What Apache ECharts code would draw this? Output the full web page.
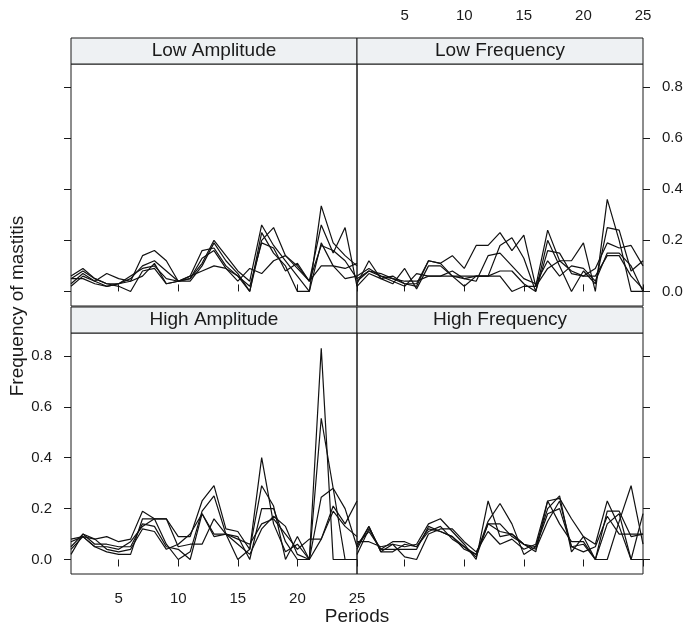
<!DOCTYPE html>
<html>
<head>
<meta charset="utf-8">
<script src="https://cdn.jsdelivr.net/npm/echarts@6/dist/echarts.min.js"></script>
<style>
html,body{margin:0;padding:0;background:#fff;}
#chart{width:688px;height:633px;}
</style>
</head>
<body>
<div id="chart"></div>
<script>
// ---- data ----
const periods = [1,2,3,4,5,6,7,8,9,10,11,12,13,14,15,16,17,18,19,20,21,22,23,24,25];
const xTicks = [5,10,15,20,25];
const yTicks = [0,0.2,0.4,0.6,0.8];
const panelNames = ['Low Amplitude','Low Frequency','High Amplitude','High Frequency'];

const lowAmplitude = [
  [0.05,0.08,0.05,0.03,0.03,0.05,0.10,0.12,0.08,0.04,0.05,0.11,0.20,0.14,0.08,0.04,0.26,0.18,0.12,0.06,0.00,0.335,0.19,0.14,0.10],
  [0.03,0.07,0.04,0.02,0.03,0.04,0.14,0.16,0.12,0.04,0.06,0.16,0.17,0.10,0.06,0.00,0.20,0.25,0.14,0.10,0.04,0.26,0.15,0.25,0.02],
  [0.06,0.09,0.05,0.03,0.02,0.00,0.08,0.09,0.03,0.04,0.04,0.10,0.19,0.12,0.07,0.00,0.23,0.15,0.10,0.00,0.00,0.19,0.10,0.09,0.11],
  [0.02,0.06,0.04,0.07,0.05,0.04,0.06,0.11,0.03,0.04,0.06,0.08,0.10,0.09,0.06,0.02,0.19,0.17,0.08,0.11,0.04,0.18,0.16,0.12,0.05],
  [0.05,0.05,0.03,0.02,0.03,0.06,0.09,0.10,0.05,0.04,0.05,0.13,0.16,0.09,0.04,0.09,0.07,0.12,0.14,0.09,0.04,0.10,0.10,0.05,0.06]
];
const lowFrequency = [
  [0.05,0.08,0.06,0.05,0.03,0.02,0.12,0.11,0.14,0.09,0.18,0.18,0.23,0.16,0.22,0.02,0.24,0.12,0.12,0.19,0.00,0.36,0.20,0.00,0.00],
  [0.03,0.12,0.05,0.03,0.09,0.01,0.10,0.10,0.06,0.02,0.06,0.06,0.18,0.21,0.13,0.00,0.20,0.10,0.00,0.08,0.03,0.25,0.24,0.08,0.12],
  [0.06,0.09,0.06,0.04,0.02,0.07,0.06,0.06,0.08,0.05,0.06,0.06,0.08,0.08,0.03,0.00,0.16,0.15,0.07,0.06,0.09,0.19,0.17,0.18,0.10],
  [0.02,0.07,0.05,0.06,0.03,0.03,0.12,0.11,0.06,0.05,0.04,0.14,0.15,0.10,0.05,0.03,0.12,0.06,0.10,0.09,0.04,0.15,0.15,0.10,0.00],
  [0.04,0.08,0.07,0.05,0.04,0.04,0.06,0.06,0.06,0.06,0.06,0.06,0.06,0.00,0.02,0.02,0.09,0.12,0.08,0.06,0.06,0.14,0.14,0.06,0.01]
];
const highAmplitude = [
  [0.05,0.10,0.08,0.09,0.07,0.08,0.19,0.16,0.16,0.09,0.09,0.23,0.29,0.12,0.11,0.04,0.40,0.14,0.03,0.06,0.00,0.83,0.00,0.00,0.00],
  [0.07,0.09,0.05,0.03,0.02,0.02,0.16,0.16,0.06,0.00,0.03,0.19,0.25,0.10,0.00,0.04,0.29,0.21,0.00,0.09,0.00,0.555,0.28,0.00,0.00],
  [0.02,0.10,0.06,0.06,0.05,0.05,0.14,0.13,0.05,0.04,0.00,0.18,0.10,0.10,0.09,0.00,0.20,0.20,0.07,0.00,0.00,0.245,0.28,0.20,0.05],
  [0.08,0.09,0.08,0.04,0.03,0.04,0.12,0.11,0.04,0.06,0.10,0.18,0.09,0.10,0.08,0.06,0.14,0.16,0.10,0.04,0.08,0.08,0.21,0.14,0.23],
  [0.04,0.09,0.05,0.05,0.04,0.07,0.13,0.16,0.16,0.05,0.06,0.06,0.16,0.10,0.06,0.02,0.12,0.17,0.13,0.02,0.00,0.08,0.19,0.13,0.09]
];
const highFrequency = [
  [0.04,0.13,0.03,0.06,0.05,0.06,0.14,0.16,0.11,0.06,0.00,0.23,0.09,0.10,0.06,0.03,0.23,0.24,0.16,0.09,0.06,0.23,0.13,0.00,0.18],
  [0.02,0.12,0.04,0.07,0.07,0.05,0.12,0.11,0.09,0.05,0.02,0.15,0.22,0.14,0.02,0.05,0.20,0.25,0.03,0.09,0.00,0.19,0.19,0.09,0.10],
  [0.07,0.07,0.05,0.06,0.01,0.00,0.10,0.12,0.12,0.07,0.03,0.11,0.06,0.08,0.04,0.06,0.23,0.14,0.07,0.07,0.00,0.00,0.15,0.29,0.06],
  [0.05,0.13,0.03,0.03,0.06,0.05,0.11,0.13,0.08,0.05,0.01,0.14,0.14,0.09,0.06,0.05,0.18,0.20,0.05,0.03,0.05,0.17,0.10,0.10,0.10],
  [0.06,0.11,0.04,0.04,0.04,0.04,0.13,0.11,0.09,0.04,0.02,0.14,0.11,0.10,0.06,0.04,0.15,0.23,0.05,0.06,0.00,0.14,0.18,0.00,0.00]
];
const panelData = [lowAmplitude, lowFrequency, highAmplitude, highFrequency];

// ---- layout / style ----
const FONT = '"Liberation Sans", Arial, Helvetica, sans-serif';
const INK = '#1a1a1a';
const lefts = [71, 357, 71, 357];
const tops = [64, 64, 333, 333];
const W = 286;
const heights = [242, 242, 241, 241];
const STRIP_H = 26;
const yMin = -0.057, yMax = 0.89;

const grids = [], xAxes = [], yAxes = [], series = [], graphics = [];
for (let p = 0; p < 4; p++) {
  grids.push({left: lefts[p], top: tops[p], width: W, height: heights[p],
    show: true, borderColor: INK, borderWidth: 1, backgroundColor: 'transparent'});
  const isTop = p < 2, isLeft = p % 2 === 0;
  // bottom x axis
  xAxes.push({gridIndex: p, type: 'value', min: 1, max: 25, position: 'bottom',
    axisLine: {show: false}, splitLine: {show: false},
    axisTick: {show: !isTop, customValues: xTicks, length: 7, lineStyle: {color: INK}},
    axisLabel: {show: p === 2, customValues: xTicks, margin: 17, fontSize: 15, color: INK, fontFamily: FONT}});
  // top x axis (above the strip)
  xAxes.push({gridIndex: p, type: 'value', min: 1, max: 25, position: 'top', offset: STRIP_H,
    show: isTop,
    axisLine: {show: false}, splitLine: {show: false},
    axisTick: {show: isTop, customValues: xTicks, length: 7, lineStyle: {color: INK}},
    axisLabel: {show: p === 1, customValues: xTicks, margin: 15, fontSize: 15, color: INK, fontFamily: FONT}});
  // left y axis
  yAxes.push({gridIndex: p, type: 'value', min: yMin, max: yMax, position: 'left',
    axisLine: {show: false}, splitLine: {show: false},
    axisTick: {show: isLeft, customValues: yTicks, length: 7, lineStyle: {color: INK}},
    axisLabel: {show: p === 2, customValues: yTicks, margin: 19, fontSize: 15, color: INK, fontFamily: FONT,
      formatter: v => Number(v).toFixed(1)}});
  // right y axis
  yAxes.push({gridIndex: p, type: 'value', min: yMin, max: yMax, position: 'right',
    axisLine: {show: false}, splitLine: {show: false},
    axisTick: {show: !isLeft, customValues: yTicks, length: 7, lineStyle: {color: INK}},
    axisLabel: {show: p === 1, customValues: yTicks, margin: 19, fontSize: 15, color: INK, fontFamily: FONT,
      formatter: v => Number(v).toFixed(1)}});

  panelData[p].forEach(row => {
    series.push({type: 'line', xAxisIndex: 2 * p, yAxisIndex: 2 * p,
      data: periods.map((x, i) => [x, row[i]]),
      showSymbol: false, silent: true, animation: false,
      lineStyle: {color: '#111', width: 1.2}});
  });

  // strip
  graphics.push({type: 'rect', shape: {x: lefts[p], y: tops[p] - STRIP_H, width: W, height: STRIP_H},
    style: {fill: '#eef1f3', stroke: INK, lineWidth: 1}, z: 10});
  graphics.push({type: 'text', x: lefts[p] + W / 2, y: tops[p] - STRIP_H / 2,
    style: {text: panelNames[p], fill: INK, font: '19px ' + FONT, align: 'center', verticalAlign: 'middle'}, z: 11});
}
graphics.push({type: 'text', x: 357, y: 617,
  style: {text: 'Periods', fill: INK, font: '19px ' + FONT, align: 'center', verticalAlign: 'middle'}});
graphics.push({type: 'text', x: 18, y: 306, rotation: Math.PI / 2,
  style: {text: 'Frequency of mastitis', fill: INK, font: '19px ' + FONT, align: 'center', verticalAlign: 'middle'}});

const chart = echarts.init(document.getElementById('chart'), null, {renderer: 'canvas'});
chart.setOption({
  animation: false,
  backgroundColor: '#fff',
  grid: grids, xAxis: xAxes, yAxis: yAxes, series: series, graphic: graphics
});
</script>
</body>
</html>
